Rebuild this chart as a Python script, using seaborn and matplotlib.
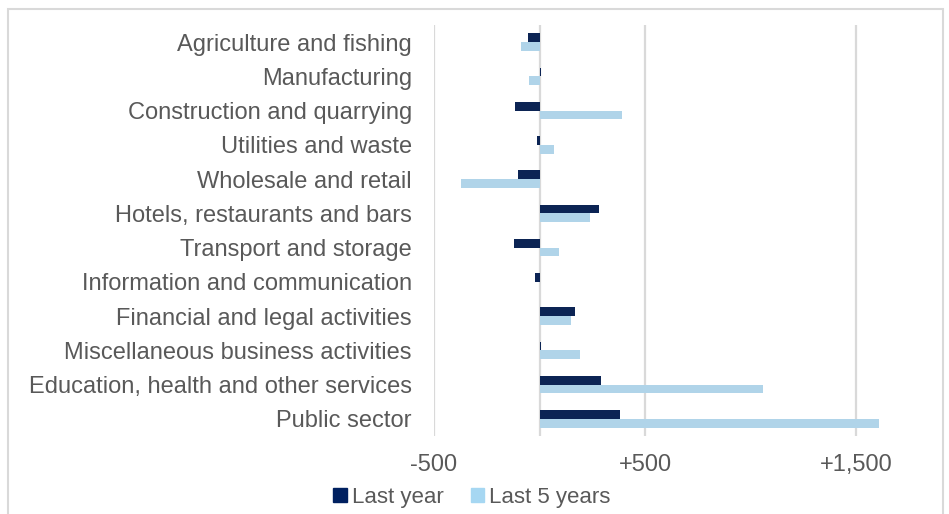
import matplotlib
matplotlib.use("Agg")
import matplotlib.pyplot as plt
from matplotlib.patches import Rectangle
import pandas as pd
import seaborn as sns

sectors = [
    "Agriculture and fishing",
    "Manufacturing",
    "Construction and quarrying",
    "Utilities and waste",
    "Wholesale and retail",
    "Hotels, restaurants and bars",
    "Transport and storage",
    "Information and communication",
    "Financial and legal activities",
    "Miscellaneous business activities",
    "Education, health and other services",
    "Public sector",
]
last_year = [-55, 8, -118, -10, -100, 280, -120, -20, 170, 6, 290, 380]
last_5_years = [-88, -50, 390, 68, -370, 238, 90, 0, 150, 190, 1060, 1610]
series_names = ["Last year", "Last 5 years"]
tick_values = [-500, 500, 1500]
tick_labels = ["-500", "+500", "+1,500"]

df = pd.DataFrame({
    "sector": sectors * 2,
    "change": last_year + last_5_years,
    "period": [series_names[0]] * len(sectors) + [series_names[1]] * len(sectors),
})

sns.set_theme(style="white")
plt.rcParams["font.family"] = ["Liberation Sans", "DejaVu Sans"]

navy = "#002060"
sky = "#A6D7F2"
grey_text = "#595959"
grid_grey = "#D9D9D9"
fs = 17
fs_legend = 16

fig = plt.figure(figsize=(9.49, 5.14), dpi=100)
ax = fig.add_axes([434 / 949, 1 - 436 / 514, (909 - 434) / 949, (436 - 25) / 514])

sns.barplot(
    data=df, y="sector", x="change", hue="period", order=sectors,
    hue_order=series_names, palette=[navy, sky], orient="h",
    width=0.51, linewidth=0, ax=ax, legend=False,
)

ax.set_xlim(-500, 1750)
ax.set_ylim(len(sectors) - 0.5, -0.5)
ax.set_xticks(tick_values)
ax.set_xticklabels(tick_labels)
ax.xaxis.grid(True, color=grid_grey, linewidth=1.6)
ax.yaxis.grid(False)
ax.set_axisbelow(True)
ax.axvline(0, color=grid_grey, linewidth=1.6, zorder=0.5)
for s in ax.spines.values():
    s.set_visible(False)
ax.set_xlabel("")
ax.set_ylabel("")
ax.tick_params(axis="x", length=0, pad=13, labelsize=fs, labelcolor=grey_text)
ax.tick_params(axis="y", length=0, pad=16, labelsize=fs, labelcolor=grey_text)

handles = [Rectangle((0, 0), 1, 1, color=navy), Rectangle((0, 0), 1, 1, color=sky)]
fig.legend(
    handles, series_names, loc="center", bbox_to_anchor=(472 / 949, 1 - 497 / 514),
    ncol=2, frameon=False, fontsize=fs_legend, labelcolor=grey_text,
    handlelength=0.6, handleheight=0.6, handletextpad=0.25, columnspacing=1.2,
)

# light frame around the whole chart
fig.patches.append(Rectangle(
    (8 / 949, -0.05), (943 - 8) / 949, 1.05 - 8.5 / 514,
    transform=fig.transFigure, fill=False, edgecolor=grid_grey, linewidth=1.5,
))

fig.savefig("out.png", dpi=100)
